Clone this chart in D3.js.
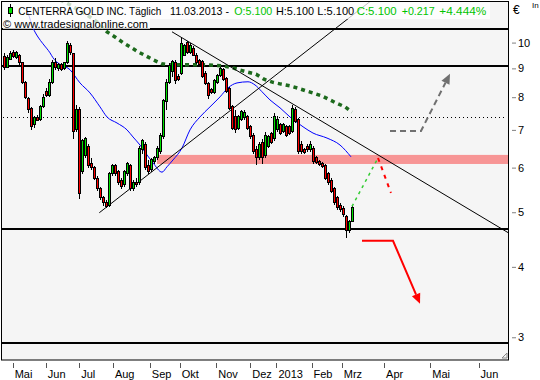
<!DOCTYPE html>
<html>
<head>
<meta charset="utf-8">
<script src="https://cdn.jsdelivr.net/npm/d3@7"></script>
<style>
body { margin: 0; background: #fff; }
text { font-family: "Liberation Sans", Arial, sans-serif; }
</style>
</head>
<body>
<div id="chart"></div>
<script>
// daily candles (every 2nd session), Apr 2012 .. 11.03.2013
const opens  = [9.45,9.05,9.35,9.6,9.4,9.5,9.2,8.5,7.95,7.65,7.15,7.35,7.3,7.7,8.2,8.05,8.5,9.2,9.0,9.15,9.0,9.2,9.9,9.55,7.0,7.6,5.9,6.3,6.55,6.1,6.0,5.75,5.5,5.3,5.2,5.15,5.85,6.05,5.9,5.7,5.6,5.85,6.05,5.5,5.65,5.65,6.45,6.6,6.05,5.95,6.15,6.25,6.4,6.8,7.85,8.5,8.9,9.2,8.7,8.8,9.5,10.0,9.6,9.75,9.5,9.3,9.25,8.8,8.45,8.25,8.15,8.5,8.75,8.95,8.65,8.3,7.7,7.4,7.05,7.3,7.35,7.4,7.1,6.85,6.45,6.25,6.65,6.3,6.55,6.9,6.75,7.0,7.15,6.95,7.1,7.1,6.95,7.6,7.3,6.6,6.45,6.55,6.45,6.5,6.25,6.15,6.1,6.05,5.85,5.7,5.5,5.3,5.15,5.08,4.92,4.65,4.82];
const highs  = [9.6,9.5,9.65,9.7,9.65,9.55,9.25,8.55,8.0,7.7,7.4,7.45,7.75,8.1,8.3,8.6,9.3,9.4,9.2,9.2,9.25,10.05,10.0,9.6,7.75,7.7,6.75,6.8,6.6,6.25,6.05,5.8,5.55,5.35,5.25,5.9,6.1,6.1,5.95,5.75,5.95,6.15,6.1,5.7,5.75,6.55,6.75,6.65,6.2,6.25,6.3,6.55,6.9,7.95,8.6,9.2,9.3,9.3,8.8,10.2,9.95,10.05,10.0,9.85,9.6,9.35,9.3,8.9,8.5,8.3,8.6,8.8,9.05,9.0,8.7,8.35,7.75,7.6,7.45,7.6,7.6,7.45,7.15,6.9,6.55,6.65,6.75,6.95,6.85,6.95,7.5,7.4,7.2,7.2,7.15,7.15,7.75,7.7,7.35,6.7,6.5,6.6,6.7,6.55,6.3,6.2,6.15,6.1,5.9,5.75,5.55,5.35,5.2,5.12,4.95,4.85,5.12];
const lows   = [8.95,9.0,9.3,9.4,9.35,9.1,8.45,7.95,7.5,7.0,7.05,7.25,7.25,7.65,8.0,8.0,8.45,8.95,8.9,8.9,8.95,9.15,9.5,6.75,6.95,5.28,5.85,6.25,6.0,5.95,5.7,5.45,5.25,5.12,5.08,5.1,5.8,5.8,5.6,5.5,5.55,5.8,5.45,5.45,5.55,5.6,6.35,5.95,5.85,5.9,6.1,6.2,6.35,6.75,7.6,8.45,8.7,8.45,8.55,8.75,9.45,9.55,9.55,9.45,9.15,9.1,8.65,8.4,7.95,8.1,8.1,8.45,8.7,8.55,8.15,7.6,7.0,6.9,7.0,7.25,7.3,7.0,6.75,6.35,6.07,6.2,6.1,6.25,6.5,6.6,6.7,6.95,6.85,6.9,6.8,6.85,6.9,7.2,6.35,6.35,6.35,6.4,6.4,6.1,6.1,6.05,5.98,5.7,5.6,5.4,5.15,5.05,5.0,4.9,4.5,4.6,4.8];
const closes = [9.05,9.4,9.55,9.45,9.6,9.2,8.5,8.0,7.6,7.1,7.35,7.28,7.7,8.0,8.05,8.5,9.2,9.05,9.15,8.95,9.2,9.95,9.6,6.95,7.6,5.4,6.7,6.75,6.05,6.0,5.75,5.5,5.3,5.2,5.12,5.85,6.05,5.85,5.65,5.55,5.9,6.1,5.5,5.65,5.6,6.5,6.7,6.0,5.9,6.2,6.25,6.5,6.85,7.9,8.5,9.1,9.25,8.55,8.6,9.95,9.9,9.6,9.9,9.5,9.2,9.15,8.7,8.45,8.05,8.15,8.55,8.75,9.0,8.6,8.2,7.65,7.05,7.0,7.4,7.55,7.5,7.05,6.8,6.4,6.25,6.6,6.25,6.85,6.8,6.65,7.4,7.3,6.9,7.15,6.85,6.9,7.65,7.25,6.4,6.4,6.38,6.45,6.6,6.15,6.12,6.08,6.02,5.75,5.65,5.45,5.2,5.1,5.05,4.95,4.65,4.82,5.1];

// moving averages: [day index, price]
const maBlue  = [[7.33,11.52],[8,11.29],[9.67,10.62],[11.33,10.23],[13,9.95],[15.33,9.59],[16.33,9.4],[18,9.2],[22,8.95],[25.33,8.48],[28.67,8.14],[32,7.69],[34.33,7.38],[37.67,7.2],[41,7.0],[43,6.8],[45.33,6.58],[47.67,6.32],[49.67,6.12],[52.67,5.89],[54.33,6.02],[56.33,6.19],[59.33,6.5],[62,7.0],[65.33,7.38],[68.67,7.69],[72,8.01],[74.67,8.31],[77.67,8.48],[81.33,8.52],[83.67,8.41],[86,8.18],[88.67,7.91],[92,7.66],[95.33,7.38],[99.67,7.09],[103,6.91],[107.67,6.77],[112,6.58],[115.67,6.27]];
const maGreen = [[18.67,11.9],[22,11.67],[24.67,11.43],[27.67,11.2],[31,10.88],[34.33,10.45],[37,10.23],[39.67,10.0],[42,9.83],[44.67,9.63],[47.33,9.47],[49.67,9.32],[52.67,9.17],[55.33,9.13],[61.33,9.13],[67,9.13],[73,9.09],[75.67,9.04],[78.33,8.95],[81,8.87],[84,8.79],[86.67,8.61],[89.67,8.5],[92.33,8.44],[95.33,8.38],[98,8.3],[100.67,8.21],[103.33,8.13],[106,8.04],[108.67,7.91],[111,7.8],[113.67,7.69],[116,7.53]];

// drawn objects
const trendUp   = [[31.77,4.99],[122.67,11.9]];
const trendDown = [[56,10.45],[168.33,4.59]];
const levels    = [10.55, 9.1, 4.66, 2.93];
const dottedLevel = 7.39;
const zone      = {from: 51, lo: 6.09, hi: 6.32};
const projUp    = [[116,5.12],[124.67,6.24]];
const projDown  = [[124.67,6.24],[129,5.41]];
const arrowGray = [[128.67,6.97],[139,6.97],[148.67,8.8]];
const arrowRed  = [[119.33,4.45],[129.67,4.45],[138.67,3.44]];

// axes
const yTicks = [3,4,5,6,7,8,9,10];
const monthLabels = ["Mai","Jun","Jul","Aug","Sep","Okt","Nov","Dez","2013","Feb","Mrz","Apr","Mai","Jun"];
const monthPos    = [2.9,13.93,25.07,36.3,48.6,58.6,70.77,82.1,90.83,102.5,112.6,126.7,142.1,158.2];

const headerParts  = ["CENTERRA GOLD INC. Täglich","11.03.2013 -","O:5.100","H:5.100","L:5.100","C:5.100","+0.217","+4.444%"];
const headerGreen  = [false,false,true,false,false,true,true,true];

const W = 540, H = 380;
const L = 1, R = 509, T = 1, B = 360;

const svg = d3.select("#chart").append("svg")
    .attr("width", W)
    .attr("height", H);

svg.append("rect").attr("width", W).attr("height", H).attr("fill", "#fff");

const x = d3.scaleLinear().domain([-1, 168]).range([1, 508]);
const y = d3.scaleLog().domain([2.734, 11.9]).range([360, 0]);

svg.append("defs").append("clipPath").attr("id", "clip")
    .append("rect").attr("x", L).attr("y", T).attr("width", R - L).attr("height", B - T);

svg.append("rect")
    .attr("x", L + 0.5).attr("y", T + 0.5)
    .attr("width", R - L - 1).attr("height", B - T - 0.5)
    .attr("fill", "#f5f5f5");

const g = svg.append("g").attr("clip-path", "url(#clip)");

// support zone
g.append("rect")
    .attr("x", x(zone.from)).attr("width", R - x(zone.from))
    .attr("y", y(zone.hi)).attr("height", y(zone.lo) - y(zone.hi))
    .attr("fill", "#f79595");

// horizontal levels
g.selectAll(".level").data(levels).join("line")
    .attr("x1", L).attr("x2", R)
    .attr("y1", d => Math.round(y(d))).attr("y2", d => Math.round(y(d)))
    .attr("stroke", "#000").attr("stroke-width", 2);

g.append("line")
    .attr("x1", L + 2).attr("x2", R - 4)
    .attr("y1", Math.round(y(dottedLevel)) + 0.5).attr("y2", Math.round(y(dottedLevel)) + 0.5)
    .attr("stroke", "#000").attr("stroke-width", 1)
    .attr("stroke-dasharray", "1,3");

const line = d3.line().x(d => x(d[0])).y(d => y(d[1]));

// moving averages
g.append("path").attr("d", line(maGreen))
    .attr("fill", "none").attr("stroke", "#1d6a1d")
    .attr("stroke-width", 3.5).attr("stroke-dasharray", "4,4");

g.append("path").attr("d", line.curve(d3.curveMonotoneX)(maBlue))
    .attr("fill", "none").attr("stroke", "#0000ff").attr("stroke-width", 1);
line.curve(d3.curveLinear);

// trend lines
[trendUp, trendDown].forEach(t => {
    g.append("path").attr("d", line(t))
        .attr("fill", "none").attr("stroke", "#000").attr("stroke-width", 1);
});

// candles
const candles = opens.map((o, i) => ({i: i, o: o, h: highs[i], l: lows[i], c: closes[i]}));
const cg = g.append("g").attr("shape-rendering", "crispEdges");
cg.selectAll(".wick").data(candles).join("line")
    .attr("x1", d => Math.round(x(d.i)) + 0.5).attr("x2", d => Math.round(x(d.i)) + 0.5)
    .attr("y1", d => y(d.h)).attr("y2", d => y(d.l))
    .attr("stroke", "#000");
cg.selectAll(".body").data(candles).join("rect")
    .attr("x", d => Math.round(x(d.i)) - 0.5)
    .attr("width", 2)
    .attr("y", d => y(Math.max(d.o, d.c)))
    .attr("height", d => Math.max(1, Math.abs(y(d.o) - y(d.c))))
    .attr("fill", d => d.c >= d.o ? "#00e000" : "#ff0000")
    .attr("stroke", "#000").attr("stroke-width", 1);

// projections
g.append("path").attr("d", line(projUp))
    .attr("fill", "none").attr("stroke", "#33cc33").attr("stroke-width", 1.5)
    .attr("stroke-dasharray", "3,4");
g.append("path").attr("d", line(projDown))
    .attr("fill", "none").attr("stroke", "#ff0000").attr("stroke-width", 2)
    .attr("stroke-dasharray", "4,5");

function arrow(pts, color, dash) {
    const p = pts.map(d => [x(d[0]), y(d[1])]);
    const a = p[p.length - 2], b = p[p.length - 1];
    const ang = Math.atan2(b[1] - a[1], b[0] - a[0]);
    const len = 10, wid = 4.5;
    const bx = b[0] - len * Math.cos(ang), by = b[1] - len * Math.sin(ang);
    const tip = [b, [bx + wid * Math.sin(ang), by - wid * Math.cos(ang)], [bx - wid * Math.sin(ang), by + wid * Math.cos(ang)]];
    const shaft = p.slice(0, -1).concat([[bx, by]]);
    g.append("path").attr("d", d3.line()(shaft))
        .attr("fill", "none").attr("stroke", color).attr("stroke-width", 2)
        .attr("stroke-dasharray", dash);
    g.append("path").attr("d", d3.line()(tip) + "Z").attr("fill", color);
}
arrow(arrowGray, "#707070", "6,4");
arrow(arrowRed, "#ff0000", null);

// plot frame
svg.append("rect")
    .attr("x", L + 0.5).attr("y", T + 0.5)
    .attr("width", R - L - 1).attr("height", B - T - 0.5)
    .attr("fill", "none").attr("stroke", "#000");

// resize grip
svg.append("path")
    .attr("d", "M502,358 L507,353 L507,358 Z")
    .attr("fill", "none").attr("stroke", "#888");

// header
const hdr = svg.append("g");
hdr.append("rect").attr("x", 3).attr("y", 2).attr("width", 487).attr("height", 17)
    .attr("fill", "#fff").attr("opacity", 0.75);
hdr.append("rect").attr("x", 3).attr("y", 19).attr("width", 147).attr("height", 10)
    .attr("fill", "#fff").attr("opacity", 0.75);
hdr.append("line").attr("x1", 10.5).attr("x2", 10.5).attr("y1", 4).attr("y2", 17)
    .attr("stroke", "#000");
hdr.append("rect").attr("x", 8.5).attr("y", 7.5).attr("width", 4).attr("height", 6)
    .attr("fill", "#00e000").attr("stroke", "#000");

const hdrX = [18.3, 170, 234.3, 276, 317.3, 356.7, 401.7, 439.3];
const hdrW = [143, 59, 38, 38, 37, 40, 33, 47];
hdr.selectAll(".ht").data(headerParts).join("text")
    .attr("x", (d, i) => hdrX[i]).attr("y", 14.5)
    .attr("textLength", (d, i) => hdrW[i])
    .attr("lengthAdjust", "spacingAndGlyphs")
    .attr("font-size", 10.5)
    .attr("fill", (d, i) => headerGreen[i] ? "#00c400" : "#000")
    .text(d => d);
hdr.append("text").attr("x", 3).attr("y", 27.5)
    .attr("font-size", 11).attr("textLength", 145).attr("lengthAdjust", "spacingAndGlyphs")
    .text("© www.tradesignalonline.com");

// y axis
const yAxis = svg.append("g")
    .attr("transform", "translate(512,0)")
    .call(d3.axisRight(y).tickValues(yTicks).tickFormat(d3.format("d")).tickSize(4).tickPadding(2));
yAxis.select(".domain").remove();
yAxis.selectAll(".tick line").attr("stroke", "#808080");
yAxis.selectAll(".tick text").attr("font-size", 11).attr("font-family", "Liberation Sans, Arial, sans-serif").attr("fill", "#000");

svg.append("text").attr("x", 513).attr("y", 14).attr("font-size", 12).text("€");
svg.append("text").attr("x", 532).attr("y", 8).attr("font-size", 8).text("In");

// x axis (months)
const xa = svg.append("g");
xa.selectAll(".mt").data(monthPos).join("line")
    .attr("x1", d => Math.round(x(d)) + 0.5).attr("x2", d => Math.round(x(d)) + 0.5)
    .attr("y1", 363).attr("y2", 368)
    .attr("stroke", "#555");
xa.selectAll(".ml").data(monthLabels).join("text")
    .attr("x", (d, i) => x(monthPos[i]) + 2)
    .attr("y", 377.5)
    .attr("font-size", 11)
    .text(d => d);
</script>
</body>
</html>
